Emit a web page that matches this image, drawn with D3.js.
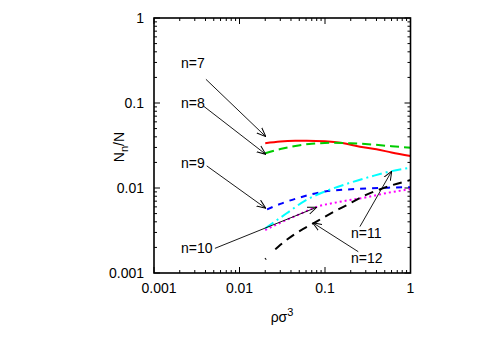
<!DOCTYPE html>
<html><head><meta charset="utf-8">
<script src="https://cdn.jsdelivr.net/npm/d3@7"></script>
<style>body{margin:0;background:#fff}text{font-family:"Liberation Sans",Arial,sans-serif}</style>
</head><body><svg id="c" width="485" height="339"></svg>
<script>
const xTicks = [0.001, 0.01, 0.1, 1];
const yTicks = [0.001, 0.01, 0.1, 1];
const xTickLabels = ["0.001", "0.01", "0.1", "1"];
const yTickLabels = ["0.001", "0.01", "0.1", "1"];

const n7x = [0.02, 0.03, 0.045, 0.061, 0.1, 0.16, 0.256, 0.4, 0.6, 1];
const n7y = [0.0336, 0.0352, 0.0359, 0.036, 0.0355, 0.0338, 0.0305, 0.0285, 0.0262, 0.0238];
const n8x = [0.02, 0.03, 0.045, 0.07, 0.124, 0.2, 0.35, 0.6, 1];
const n8y = [0.0256, 0.0287, 0.0312, 0.0332, 0.034, 0.0336, 0.0325, 0.031, 0.0298];
const n9x = [0.021, 0.03, 0.05, 0.1, 0.18, 0.31, 0.55, 1];
const n9y = [0.0056, 0.0065, 0.0077, 0.0091, 0.0096, 0.0099, 0.0101, 0.0102];
const n10x = [0.02, 0.03, 0.05, 0.08, 0.14, 0.31, 0.55, 1];
const n10y = [0.0032, 0.0039, 0.0049, 0.006, 0.0068, 0.0078, 0.0088, 0.0097];
const n11x = [0.02, 0.0356, 0.06, 0.1, 0.18, 0.35, 0.6, 1];
const n11y = [0.00335, 0.00504, 0.0072, 0.0091, 0.0112, 0.0137, 0.0158, 0.0173];
const n12x = [0.02, 0.0284, 0.045, 0.073, 0.12, 0.18, 0.28, 0.5, 1];
const n12y = [0.00145, 0.00204, 0.0029, 0.00384, 0.0051, 0.0063, 0.008, 0.0101, 0.0124];

const series = [
  {name:"n=7", xs:n7x, ys:n7y, color:"#ff0000", dash:null},
  {name:"n=8", xs:n8x, ys:n8y, color:"#00cc00", dash:"9,5"},
  {name:"n=9", xs:n9x, ys:n9y, color:"#0000ff", dash:"6,6"},
  {name:"n=10", xs:n10x, ys:n10y, color:"#ff00ff", dash:"2,3"},
  {name:"n=11", xs:n11x, ys:n11y, color:"#00ffff", dash:"10,4,2,4"},
  {name:"n=12", xs:n12x, ys:n12y, color:"#000000", dash:"1,13,9,6,9,6,9,6,9,6,9,6,9,6,9,6,9,6,9,6,9,6,9,6,9,6,9,6,9,6"}
];

const labels = ["n=7","n=8","n=9","n=10","n=11","n=12"];
const annX = [0.00207, 0.00207, 0.00207, 0.00207, 0.201, 0.201];
const annY = [0.256, 0.0866, 0.0170, 0.0017, 0.00256, 0.0013];
const arrFromX = [0.00405, 0.00378, 0.00414, 0.00516, 0.256, 0.245];
const arrFromY = [0.190, 0.0922, 0.0182, 0.00195, 0.00351, 0.00178];
const arrToX = [0.0203, 0.0203, 0.0203, 0.080, 0.603, 0.0718];
const arrToY = [0.0402, 0.0249, 0.00577, 0.00593, 0.0158, 0.00391];

const L=154, R=410.5, T=18, B=273;
const svg = d3.select("#c");
const x = d3.scaleLog().domain([0.001,1]).range([L,R]);
const y = d3.scaleLog().domain([0.001,1]).range([B,T]);

svg.append("defs").append("marker").attr("id","ah").attr("viewBox","0 0 10 10")
  .attr("refX",10).attr("refY",5).attr("markerWidth",9).attr("markerHeight",9)
  .attr("markerUnits","userSpaceOnUse").attr("orient","auto")
  .append("path").attr("d","M0,1 L10,5 L0,9").attr("fill","none").attr("stroke","#000").attr("stroke-width",1.1);

const minorVals = [];
for (let d=-3; d<0; d++) for (let k=2;k<=9;k++) minorVals.push(k*Math.pow(10,d));
const tg = svg.append("g").attr("stroke","#000").attr("stroke-width",1);
minorVals.forEach(v=>{
  tg.append("line").attr("x1",x(v)).attr("x2",x(v)).attr("y1",B).attr("y2",B-3);
  tg.append("line").attr("x1",x(v)).attr("x2",x(v)).attr("y1",T).attr("y2",T+3);
  tg.append("line").attr("y1",y(v)).attr("y2",y(v)).attr("x1",L).attr("x2",L+3);
  tg.append("line").attr("y1",y(v)).attr("y2",y(v)).attr("x1",R).attr("x2",R-3);
});
xTicks.forEach(v=>{
  tg.append("line").attr("x1",x(v)).attr("x2",x(v)).attr("y1",B).attr("y2",B-6);
  tg.append("line").attr("x1",x(v)).attr("x2",x(v)).attr("y1",T).attr("y2",T+6);
});
yTicks.forEach(v=>{
  tg.append("line").attr("y1",y(v)).attr("y2",y(v)).attr("x1",L).attr("x2",L+6);
  tg.append("line").attr("y1",y(v)).attr("y2",y(v)).attr("x1",R).attr("x2",R-6);
});

const line = d3.line().x(d=>x(d[0])).y(d=>y(d[1])).curve(d3.curveMonotoneX);
series.forEach(s=>{
  const pts = s.xs.map((v,i)=>[v,s.ys[i]]);
  const p = svg.append("path").attr("d",line(pts)).attr("fill","none")
    .attr("stroke",s.color).attr("stroke-width",2);
  if (s.dash) p.attr("stroke-dasharray",s.dash);
});

svg.append("rect").attr("x",L).attr("y",T).attr("width",R-L).attr("height",B-T)
  .attr("fill","none").attr("stroke","#000").attr("stroke-width",1.6);

const fs = 14;
xTicks.forEach((v,i)=>{
  svg.append("text").attr("x",x(v)+(i===0?5:0)).attr("y",293).attr("text-anchor","middle")
    .attr("font-size",fs).text(xTickLabels[i]);
});
yTicks.forEach((v,i)=>{
  svg.append("text").attr("x",144).attr("y",y(v)+5).attr("text-anchor","end")
    .attr("font-size",fs).text(yTickLabels[i]);
});

const xt = svg.append("text").attr("x",282).attr("y",322).attr("text-anchor","middle").attr("font-size",fs);
xt.append("tspan").text("ρσ");
xt.append("tspan").attr("dy",-6).attr("font-size",11).text("3");
const yt = svg.append("text").attr("transform","translate(124,147) rotate(-90)").attr("text-anchor","middle").attr("font-size",fs);
yt.append("tspan").text("N");
yt.append("tspan").attr("dy",4).attr("font-size",11).text("n");
yt.append("tspan").attr("dy",-4).text("/N");

labels.forEach((t,i)=>{
  svg.append("text").attr("x",x(annX[i])).attr("y",y(annY[i])).attr("font-size",fs).text(t);
  svg.append("line").attr("x1",x(arrFromX[i])).attr("y1",y(arrFromY[i]))
    .attr("x2",x(arrToX[i])).attr("y2",y(arrToY[i]))
    .attr("stroke","#000").attr("stroke-width",0.9).attr("marker-end","url(#ah)");
});
</script></body></html>
